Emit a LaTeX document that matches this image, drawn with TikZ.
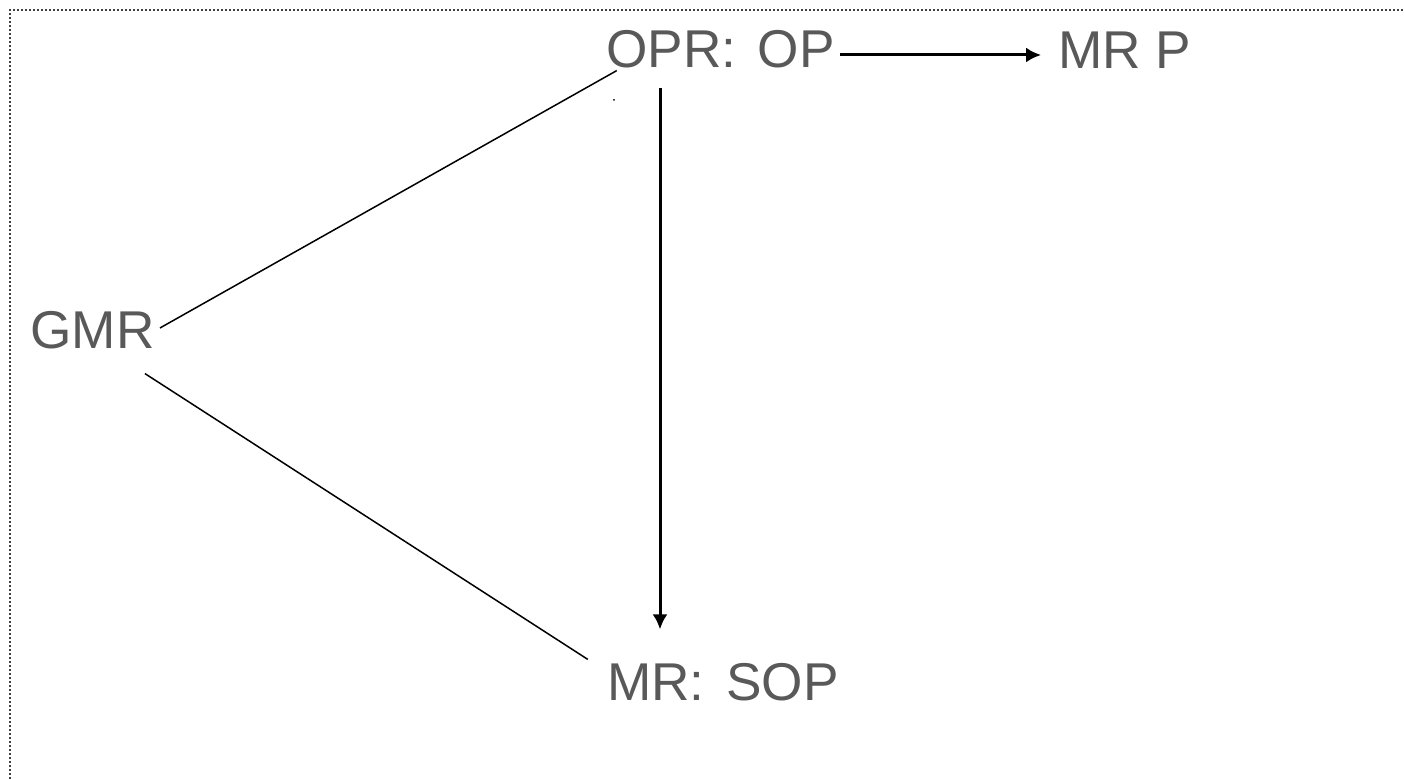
\documentclass[tikz,border=0pt]{standalone}
\usepackage{fontspec}
\setmainfont{Liberation Sans}
\usetikzlibrary{arrows.meta,positioning,calc}
\definecolor{txtgray}{HTML}{595959}
\tikzstyle{lbl}=[text=txtgray,font=\fontsize{26.6}{30}\selectfont,inner sep=0pt,text height=19.2pt,text depth=0pt]
\tikzstyle{link}=[line width=0.75pt]
\tikzstyle{flow}=[line width=1.5pt,-{Latex[length=7.5pt,width=7.5pt]}]
\newcommand{\colgap}{\hspace{3.5pt}}

\begin{document}
\begin{tikzpicture}[x=0.5pt,y=-0.5pt]
\useasboundingbox (0,0) rectangle (1404,779);
% frame
\draw[black!75,line width=1pt,dash pattern=on 1pt off 1pt] (10,779) -- (10,10) -- (1404,10);
% labels
\node [lbl] (opr) at (720.5,48) {OPR:\colgap{} OP};
\node [lbl] (mrp) at (1125,49) {MR P};
\node [lbl] (gmr) at (92.5,329) {GMR};
\node [lbl] (sop) at (723,681) {MR:\colgap{} SOP};
% connectors
\draw [link] ([shift={(5,-1)}]gmr.east) -- ([shift={(11,3)}]opr.south west);
\draw [link] ([shift={(-10,25)}]gmr.south east) -- ([shift={(-19,-2)}]sop.north west);
\draw [flow] ([shift={(5,7)}]opr.east) -- ([shift={(-17,6)}]mrp.west);
\draw [flow] ([shift={(-60.5,20)}]opr.south) -- ([shift={(-63,-32)}]sop.north);
\fill (614,100) circle (0.5pt);
\end{tikzpicture}
\end{document}
